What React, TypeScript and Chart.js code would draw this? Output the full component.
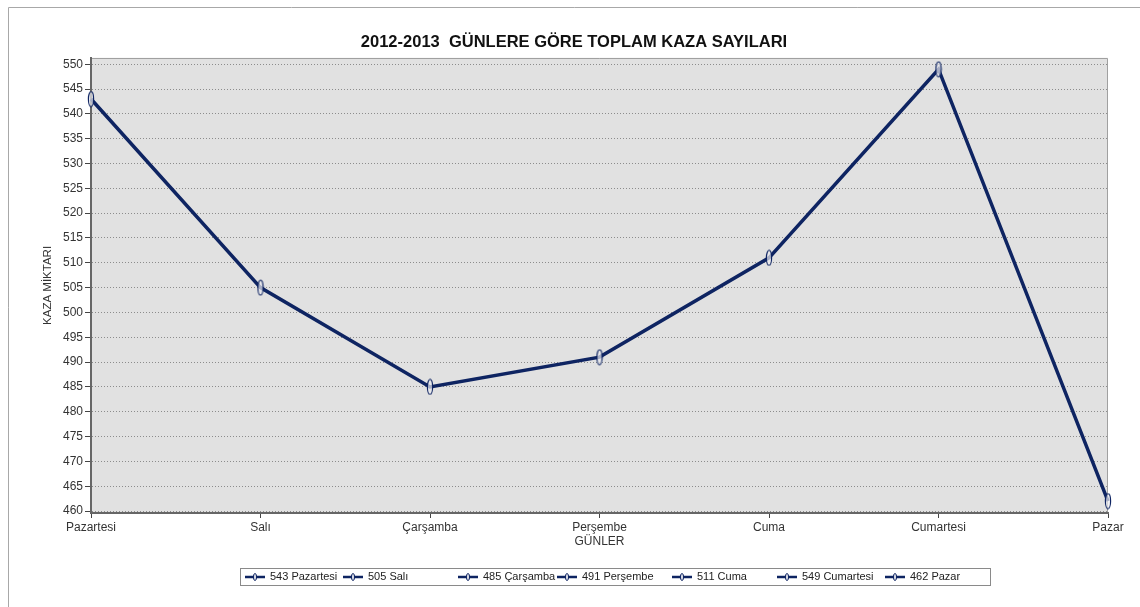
import React, { useEffect, useRef } from 'react';
import { Chart, registerables } from 'chart.js';

Chart.register(...registerables);

const TITLE = '2012-2013  GÜNLERE GÖRE TOPLAM KAZA SAYILARI';
const X_TITLE = 'GÜNLER';
const Y_TITLE = 'KAZA MİKTARI';
const DAYS = ['Pazartesi', 'Salı', 'Çarşamba', 'Perşembe', 'Cuma', 'Cumartesi', 'Pazar'];
const ACCIDENTS = [543, 505, 485, 491, 511, 549, 462];
const Y_TICKS = [460, 465, 470, 475, 480, 485, 490, 495, 500, 505, 510, 515, 520, 525, 530, 535, 540, 545, 550];

const FONT = "Arial, 'Liberation Sans', sans-serif";
const NAVY = '#0e2462';
const LEGEND_X = [245, 343, 458, 557, 672, 777, 885];

function makeMarker(): HTMLCanvasElement {
  const c = document.createElement('canvas');
  c.width = 8;
  c.height = 17;
  const g = c.getContext('2d')!;
  g.beginPath();
  g.ellipse(4, 8.5, 2.6, 7.5, 0, 0, Math.PI * 2);
  g.fillStyle = 'rgba(235,235,240,0.7)';
  g.fill();
  g.lineWidth = 1.2;
  g.strokeStyle = NAVY;
  g.stroke();
  return c;
}

const framePlugin = {
  id: 'frame',
  beforeDraw(chart: any) {
    const { ctx, chartArea: a } = chart;
    ctx.save();
    ctx.fillStyle = '#ffffff';
    ctx.fillRect(0, 0, chart.width, chart.height);
    ctx.strokeStyle = '#a8a8a8';
    ctx.lineWidth = 1;
    ctx.beginPath();
    ctx.moveTo(8.5, chart.height);
    ctx.lineTo(8.5, 7.5);
    ctx.lineTo(chart.width, 7.5);
    ctx.stroke();
    ctx.fillStyle = '#e1e1e1';
    ctx.fillRect(a.left, a.top, a.right - a.left, a.bottom - a.top);
    ctx.strokeStyle = '#a0a0a0';
    ctx.beginPath();
    ctx.moveTo(a.left, Math.round(a.top) + 0.5);
    ctx.lineTo(Math.round(a.right) - 0.5, Math.round(a.top) + 0.5);
    ctx.lineTo(Math.round(a.right) - 0.5, a.bottom);
    ctx.stroke();
    ctx.restore();
  },
  afterDraw(chart: any) {
    const { ctx } = chart;
    ctx.save();
    ctx.fillStyle = '#ffffff';
    ctx.fillRect(240.5, 568.5, 750, 17);
    ctx.strokeStyle = '#8a8a8a';
    ctx.lineWidth = 1;
    ctx.strokeRect(240.5, 568.5, 750, 17);
    const cy = 577;
    ctx.font = `11px ${FONT}`;
    ctx.textBaseline = 'middle';
    ctx.textAlign = 'left';
    DAYS.forEach((d, i) => {
      const x = LEGEND_X[i];
      ctx.strokeStyle = NAVY;
      ctx.lineWidth = 2.5;
      ctx.beginPath();
      ctx.moveTo(x, cy);
      ctx.lineTo(x + 20, cy);
      ctx.stroke();
      ctx.beginPath();
      ctx.ellipse(x + 10, cy, 1.6, 3.5, 0, 0, Math.PI * 2);
      ctx.fillStyle = '#d8dbe6';
      ctx.fill();
      ctx.lineWidth = 1;
      ctx.stroke();
      ctx.fillStyle = '#222';
      ctx.fillText(`${ACCIDENTS[i]} ${d}`, x + 25, cy);
    });
    ctx.restore();
  },
};

export default function App() {
  const ref = useRef<HTMLCanvasElement>(null);

  useEffect(() => {
    if (!ref.current) return;
    const marker = makeMarker();
    const chart = new Chart(ref.current, {
      type: 'line',
      data: {
        labels: DAYS,
        datasets: [
          {
            label: 'Kaza',
            data: ACCIDENTS,
            borderColor: NAVY,
            backgroundColor: NAVY,
            borderWidth: 3.5,
            tension: 0,
            pointStyle: marker as any,
            clip: false as any,
          },
        ],
      },
      options: {
        animation: false,
        responsive: true,
        maintainAspectRatio: false,
        layout: { padding: { left: 40, right: 32, top: 0, bottom: 58 } },
        plugins: {
          legend: { display: false },
          tooltip: { enabled: false },
          title: {
            display: true,
            text: TITLE,
            color: '#111',
            font: { family: FONT, size: 16.5, weight: 'bold' },
            padding: { top: 33, bottom: 5 },
          },
        },
        scales: {
          x: {
            type: 'category',
            offset: false,
            afterFit: (s: any) => {
              s.height = 36;
            },
            ticks: {
              font: { family: FONT, size: 12 },
              color: '#333',
              padding: 2,
              maxRotation: 0,
              autoSkip: false,
            },
            grid: {
              drawOnChartArea: false,
              drawTicks: true,
              tickLength: 5,
              tickColor: '#444',
              tickBorderDash: [],
            },
            border: { display: true, color: '#666', width: 2 },
            title: {
              display: true,
              text: X_TITLE,
              color: '#333',
              font: { family: FONT, size: 12 },
              padding: { top: 0, bottom: 0 },
            },
          },
          y: {
            min: 459.6,
            max: 551.3,
            afterBuildTicks: (s: any) => {
              s.ticks = Y_TICKS.map((v) => ({ value: v }));
            },
            afterFit: (s: any) => {
              s.width = 51;
            },
            ticks: {
              font: { family: FONT, size: 12 },
              color: '#333',
              padding: 2,
            },
            grid: {
              color: '#8c8c8c',
              lineWidth: 1,
              tickColor: '#444',
              tickLength: 6,
              tickBorderDash: [],
            },
            border: { display: true, color: '#666', width: 2, dash: [1, 2] },
            title: {
              display: true,
              text: Y_TITLE,
              color: '#333',
              font: { family: FONT, size: 11.5 },
              padding: { top: 1, bottom: 0 },
            },
          },
        },
      },
      plugins: [framePlugin],
    });
    return () => chart.destroy();
  }, []);

  return (
    <div style={{ position: 'fixed', left: 0, top: 0, width: 1140, height: 607 }}>
      <canvas ref={ref} />
    </div>
  );
}
